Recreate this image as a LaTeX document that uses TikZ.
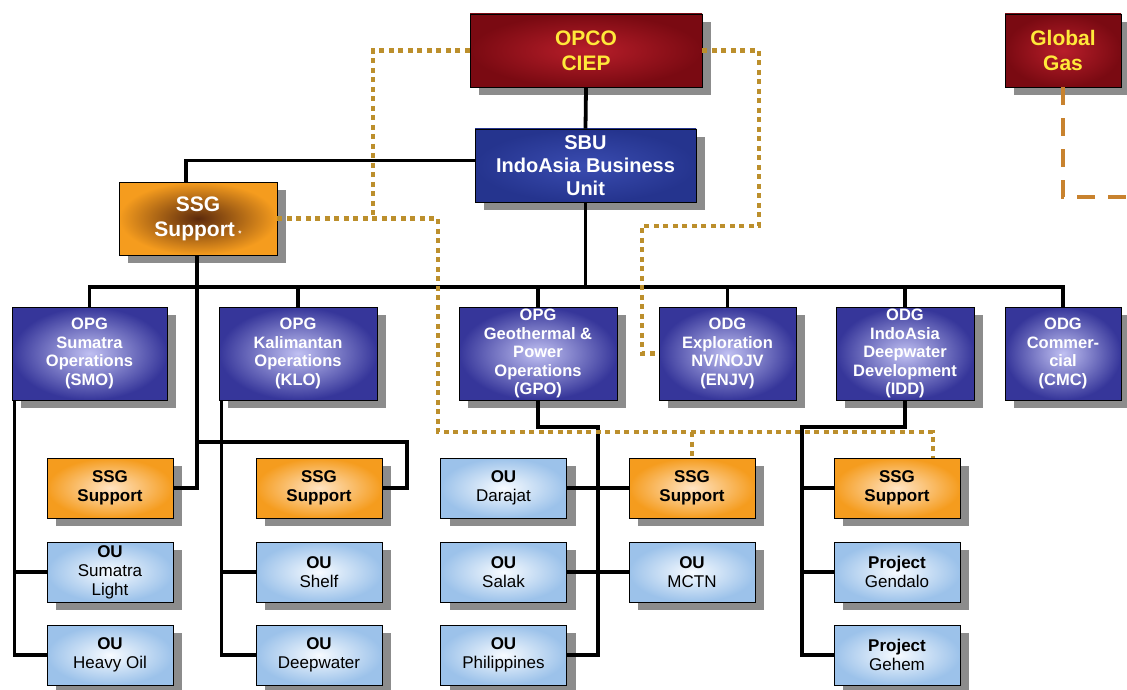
\documentclass[tikz,border=0pt]{standalone}
\usepackage{fontspec}
\setmainfont{Liberation Sans}
\usetikzlibrary{shadows}

\definecolor{opcodark}{HTML}{7A0A12}
\definecolor{opcomid}{HTML}{B81E2A}
\definecolor{titleyellow}{HTML}{FFE93A}
\definecolor{sbudark}{HTML}{25348E}
\definecolor{sbumid}{HTML}{3A4CB0}
\definecolor{opgdark}{HTML}{36369A}
\definecolor{opglight}{HTML}{C0C0F2}
\definecolor{ssgorange}{HTML}{F59C1E}
\definecolor{ssgbrown}{HTML}{5C2A0C}
\definecolor{ssglight}{HTML}{FFE4C4}
\definecolor{oublue}{HTML}{9CC2EA}
\definecolor{oulight}{HTML}{F7FBFF}
\definecolor{linkgold}{HTML}{BC8F2C}
\definecolor{gasorange}{HTML}{C8822E}

\tikzset{
  unitbox/.style={rectangle, draw=black, line width=0.9pt, align=center, inner sep=0pt,
    drop shadow={shadow xshift=9pt, shadow yshift=-8pt, fill=black!45, opacity=1}},
  topbox/.style={unitbox, minimum height=73pt, inner color=opcomid, outer color=opcodark,
    text=titleyellow, font=\fontsize{21}{25}\selectfont\bfseries},
  sbubox/.style={unitbox, minimum height=73pt, inner color=sbumid, outer color=sbudark,
    text=white, font=\fontsize{20}{23}\selectfont\bfseries},
  supportbox/.style={unitbox, minimum height=73pt, inner color=ssgbrown, outer color=ssgorange,
    text=white, font=\fontsize{21}{25}\selectfont\bfseries},
  opgbox/.style={unitbox, minimum height=93pt, inner color=opglight, outer color=opgdark,
    text=white, font=\fontsize{16.5}{18.5}\selectfont\bfseries},
  ssgbox/.style={unitbox, minimum width=126pt, minimum height=60pt, inner color=ssglight,
    outer color=ssgorange, font=\fontsize{17}{19}\selectfont\bfseries},
  oubox/.style={unitbox, minimum width=126pt, minimum height=60pt, inner color=oulight,
    outer color=oublue, font=\fontsize{17}{19}\selectfont},
  wire/.style={draw=black, line width=3.8pt},
  link/.style={draw=linkgold, line width=4.5pt, dash pattern=on 5pt off 4.5pt},
  gaslink/.style={draw=gasorange, line width=4pt, dash pattern=on 18pt off 13pt}
}

\begin{document}
\begin{tikzpicture}[x=1pt,y=-1pt]
\def\busy{287}
\def\midy{353.5}
\def\rowa{488}
\def\rowb{572}
\def\rowc{655}
%\draw[help lines,step=50] (0,0) grid (1127,690);
\fill[white] (0,0) rectangle (1127,690);
\useasboundingbox (0,0) rectangle (1127,690);

% top of the tree
\node[topbox, minimum width=232pt] (opco) at (586,50.5) {OPCO\\CIEP};
\node[topbox, minimum width=116pt] (gas) at (1063,50.5) {Global\\Gas};
\node[sbubox, minimum width=221pt] (sbu) at (585.5,165.5) {SBU\\IndoAsia Business\\Unit};
\node[supportbox, minimum width=158pt] (ssg) at (198,218.5) {SSG\\Support\,{\fontsize{8}{8}\selectfont *}};

% groups
\node[opgbox, minimum width=155pt] (smo) at (89.5,\midy) {OPG\\Sumatra\\Operations\\(SMO)};
\node[opgbox, minimum width=158pt] (klo) at (298,\midy) {OPG\\Kalimantan\\Operations\\(KLO)};
\node[opgbox, minimum width=158pt] (gpo) at (538,\midy) {OPG\\Geothermal \&\\Power\\Operations\\(GPO)};
\node[opgbox, minimum width=137pt] (enjv) at (727.5,\midy) {ODG\\Exploration\\NV/NOJV\\(ENJV)};
\node[opgbox, minimum width=138pt] (idd) at (905,\midy) {ODG\\IndoAsia\\Deepwater\\Development\\(IDD)};
\node[opgbox, minimum width=116pt] (cmc) at (1063,\midy) {ODG\\Commer-\\cial\\(CMC)};

% units
\node[ssgbox] (ssgsmo) at (110,\rowa) {SSG\\Support};
\node[oubox] (sumlight) at (110,\rowb) {\textbf{OU}\\Sumatra\\Light};
\node[oubox] (heavyoil) at (110,\rowc) {\textbf{OU}\\Heavy Oil};
\node[ssgbox] (ssgklo) at (319,\rowa) {SSG\\Support};
\node[oubox] (shelf) at (319,\rowb) {\textbf{OU}\\Shelf};
\node[oubox] (deepwater) at (319,\rowc) {\textbf{OU}\\Deepwater};
\node[oubox] (darajat) at (503.5,\rowa) {\textbf{OU}\\Darajat};
\node[oubox] (salak) at (503.5,\rowb) {\textbf{OU}\\Salak};
\node[oubox] (philippines) at (503.5,\rowc) {\textbf{OU}\\Philippines};
\node[ssgbox] (ssggpo) at (692,\rowa) {SSG\\Support};
\node[oubox] (mctn) at (692,\rowb) {\textbf{OU}\\MCTN};
\node[ssgbox] (ssgidd) at (897,\rowa) {SSG\\Support};
\node[oubox] (gendalo) at (897,\rowb) {\textbf{Project}\\Gendalo};
\node[oubox] (gehem) at (897,\rowc) {\textbf{Project}\\Gehem};

% solid lines
\coordinate (bus) at (0,\busy);
\draw[wire] (opco.south) -- (sbu.north);
\draw[wire] (smo.north) |- (cmc.north |- bus) -- (cmc.north);
\draw[wire] (sbu.south) -- (sbu.south |- bus);
\foreach \n in {klo,gpo,enjv,idd}
  \draw[wire] (\n.north) -- (\n.north |- bus);
\draw[wire] ([yshift=5pt]sbu.west) -| ([xshift=-12pt]ssg.north);
\draw[wire] ([xshift=-1pt]ssg.south) |- (ssgsmo.east);
\coordinate (kloturn) at (407,442);
\draw[wire] ([xshift=-1pt]ssg.south |- kloturn) -- (kloturn) |- (ssgklo.east);

\foreach \n/\a/\b in {smo/sumlight/heavyoil,klo/shelf/deepwater}{
  \draw[wire] ([xshift=3pt]\n.south west) |- (\a.west);
  \draw[wire] ([xshift=3pt]\n.south west) |- (\b.west);
}

\coordinate (gpoturn) at (598,427);
\draw[wire] (gpo.south) |- (gpoturn) |- (philippines.east);
\draw[wire] (darajat.east) -- (ssggpo.west);
\draw[wire] (salak.east) -- (mctn.west);

\coordinate (iddturn) at (802,427);
\draw[wire] (idd.south) |- (iddturn) |- (gehem.west);
\foreach \n in {ssgidd,gendalo}
  \draw[wire] (iddturn |- \n.west) -- (\n.west);

% dotted lines
\coordinate (dotturn) at (438,432);
\coordinate (dotjoin) at (373,218.5);
\draw[link] (ssg.east) -| (dotturn) -| ([xshift=36pt]ssgidd.north);
\draw[link] (dotturn -| ssggpo.north) -- (ssggpo.north);
\draw[link] (opco.west) -| (dotjoin);
\draw[link] (opco.east) -| (759,226) -| (642,300) |- (enjv.west);

% global gas
\coordinate (gasend) at (1127,197);
\draw[gaslink] (gas.south) |- (gasend);

\end{tikzpicture}
\end{document}
